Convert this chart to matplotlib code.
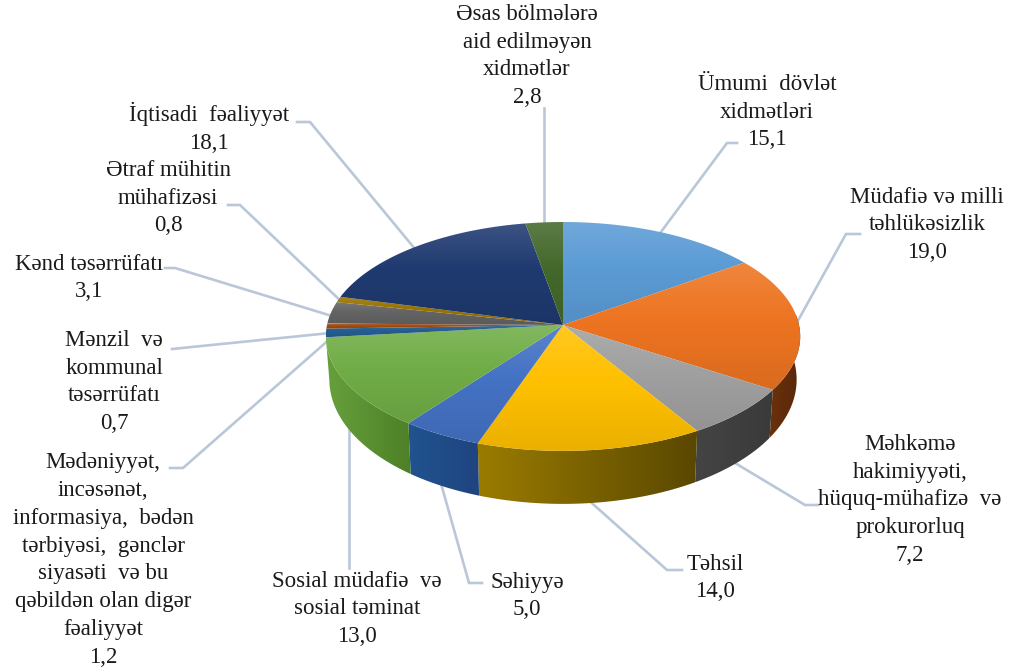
import numpy as np
import matplotlib
matplotlib.use('Agg')
import matplotlib.pyplot as plt
from matplotlib.colors import to_rgb
from matplotlib.patches import Polygon

plt.rcParams['font.family'] = ['Liberation Serif', 'DejaVu Serif']

# slices, clockwise from 12 o'clock
names = ['Ümumi  dövlət\nxidmətləri',
         'Müdafiə və milli\ntəhlükəsizlik',
         'Məhkəmə\nhakimiyyəti,\nhüquq-mühafizə  və\nprokurorluq',
         'Təhsil',
         'Səhiyyə',
         'Sosial müdafiə  və\nsosial təminat',
         'Mədəniyyət,\nincəsənət,\ninformasiya,  bədən\ntərbiyəsi,  gənclər\nsiyasəti  və bu\nqəbildən olan digər\nfəaliyyət',
         'Mənzil  və\nkommunal\ntəsərrüfatı',
         'Kənd təsərrüfatı',
         'Ətraf mühitin\nmühafizəsi',
         'İqtisadi  fəaliyyət',
         'Əsas bölmələrə\naid edilməyən\nxidmətlər']
values = [15.1, 19.0, 7.2, 14.0, 5.0, 13.0, 1.2, 0.7, 3.1, 0.8, 18.1, 2.8]
top_colors = ['#5B9BD5', '#ED7421', '#A0A0A0', '#FFC000', '#4472C4', '#70AD47',
              '#255E91', '#9E480E', '#636363', '#997300', '#1F3A70', '#43682B']
side_left = ['#2F5F8C', '#6B300A', '#444444', '#9A7B00', '#21538F', '#66A03C',
             '#1B4568', '#6B300A', '#444444', '#6B5000', '#142A50', '#2D4A1E']
side_right = ['#2F5F8C', '#57280A', '#3A3A3A', '#5A4800', '#1F4480', '#4E8028',
              '#1B4568', '#6B300A', '#444444', '#6B5000', '#142A50', '#2D4A1E']

# label centre (x, y) in picture pixels, and leader line points
label_pos = [(767, 112), (927, 225), (910, 500), (715, 578), (527, 596),
             (357, 609), (103, 560), (114, 382), (89, 278), (168, 198),
             (209, 128), (527, 56)]
leaders = [[(655, 240), (727, 143), (737, 143)],
           [(790, 335), (846, 234), (860, 234)],
           [(730, 460), (805, 505), (818, 505)],
           [(585, 497), (667, 570), (682, 570)],
           [(440, 480), (469, 583), (482, 583)],
           [(349, 420), (349, 568)],
           [(340, 330), (183, 468), (170, 468)],
           [(340, 332), (172, 349)],
           [(345, 320), (175, 268), (165, 268)],
           [(345, 305), (240, 205), (228, 205)],
           [(420, 255), (310, 122), (297, 122)],
           [(544, 235), (544, 108)]]

CX, CY, RX, RY, K = 563, 325, 236, 113.3, 0.1


def project(theta, r=1.0):
    # circle seen in perspective, theta in degrees clockwise from top
    t = np.radians(theta)
    X, Y = r * np.sin(t), -r * np.cos(t)
    w = 1 - K * Y
    return CX + RX * X / w, CY + RY * Y / w


def project_low(theta):
    x, y = project(theta)
    Y = -np.cos(np.radians(theta))
    return CX + (x - CX) * 0.985, y + 42 + 11 * Y


def mix(c, other, amt):
    return tuple((1 - amt) * np.array(to_rgb(c)) + amt * np.array(other))


def fill_gradient(ax, pts, stops, horizontal, zorder):
    # paint a gradient strip and clip it to the polygon
    pts = np.array(pts)
    x0, y0 = pts.min(axis=0)
    x1, y1 = pts.max(axis=0)
    s = np.linspace(0, 1, 64)
    grad = np.stack([np.interp(s, [p for p, _ in stops], [c[i] for _, c in stops])
                     for i in range(3)], axis=-1)
    grad = grad[np.newaxis, :, :] if horizontal else grad[:, np.newaxis, :]
    im = ax.imshow(grad, extent=(x0, x1, y1, y0), aspect='auto',
                   interpolation='bilinear', zorder=zorder)
    poly = Polygon(pts, closed=True, transform=ax.transData, fc='none', ec='none')
    ax.add_patch(poly)
    im.set_clip_path(poly)


fig = plt.figure(figsize=(10.21, 6.70), dpi=100)
ax = fig.add_axes([0, 0, 1, 1])

for pts in leaders:
    xs, ys = zip(*pts)
    ax.plot(xs, ys, color='#B9C7D9', lw=1.9, zorder=1, solid_joinstyle='miter')

edges = np.concatenate([[0], np.cumsum(values)]) / sum(values) * 360

# side walls first, the small left slices show no wall in the picture
side_from, side_to = 84.3, edges[6]
for i in range(len(values)):
    a0, a1 = max(edges[i], side_from), min(edges[i + 1], side_to)
    if a1 <= a0:
        continue
    th = np.linspace(a0, a1, 60)
    upper = np.column_stack(project(th))
    lower = np.column_stack(project_low(th))
    pts = np.vstack([upper, lower[::-1]])
    fill_gradient(ax, pts, [(0, to_rgb(side_left[i])), (1, to_rgb(side_right[i]))],
                  True, 2)

# top faces
for i in range(len(values)):
    th = np.linspace(edges[i], edges[i + 1], 80)
    rim = np.column_stack(project(th))
    pts = np.vstack([[[CX, CY]], rim])
    c = top_colors[i]
    stops = [(0, mix(c, (1, 1, 1), 0.13)), (0.45, to_rgb(c)), (1, mix(c, (0, 0, 0), 0.08))]
    fill_gradient(ax, pts, stops, False, 3)

for name, v, (x, y) in zip(names, values, label_pos):
    txt = name + '\n' + f'{v:.1f}'.replace('.', ',')
    ax.text(x, y, txt, ha='center', va='center', ma='center', fontsize=16.5,
            linespacing=1.42, color='#1a1a1a', zorder=5)

ax.set_xlim(0, 1021)
ax.set_ylim(670, 0)
ax.axis('off')

fig.savefig('out.png', dpi=100, facecolor='white')
